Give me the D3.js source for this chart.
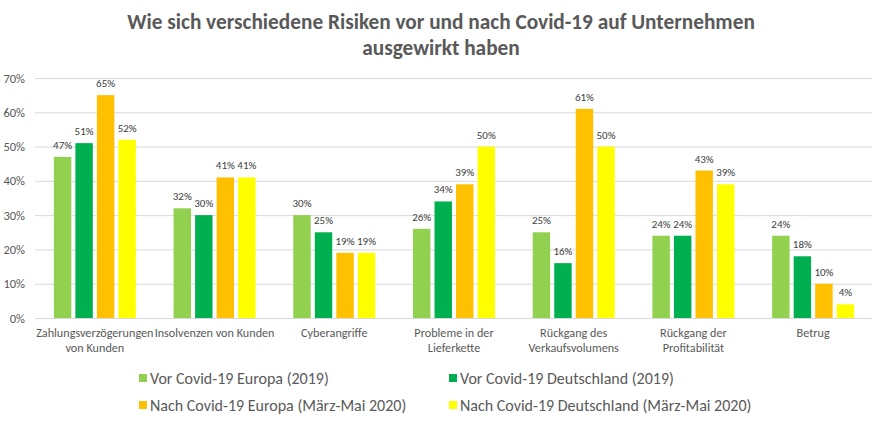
<!DOCTYPE html>
<html><head><meta charset="utf-8">
<script src="https://cdn.jsdelivr.net/npm/d3@7"></script>
<style>body{margin:0;background:#fff;}svg{display:block;font-family:Carlito,Calibri,Lato,sans-serif;}</style>
</head><body><svg id="c" width="872" height="424"></svg>
<script>
const categories = [["Zahlungsverzögerungen","von Kunden"],["Insolvenzen von Kunden"],["Cyberangriffe"],["Probleme in der","Lieferkette"],["Rückgang des","Verkaufsvolumens"],["Rückgang der","Profitabilität"],["Betrug"]];
const seriesNames = ["Vor Covid-19 Europa (2019)","Vor Covid-19 Deutschland (2019)","Nach Covid-19 Europa (März-Mai 2020)","Nach Covid-19 Deutschland (März-Mai 2020)"];
const vorEuropa = [47,32,30,26,25,24,24];
const vorDeutschland = [51,30,25,34,16,24,18];
const nachEuropa = [65,41,19,39,61,43,10];
const nachDeutschland = [52,41,19,50,50,39,4];
const yTicks = [0,10,20,30,40,50,60,70];
const colors = ["#92D050","#00B050","#FFC000","#FFFF00"];
const series = [vorEuropa,vorDeutschland,nachEuropa,nachDeutschland];

const FONT = "Carlito,Calibri,Lato,sans-serif";
const svg = d3.select("#c");
const x0 = d3.scaleBand().domain(d3.range(categories.length)).range([35,873]).padding(0);
const x1 = d3.scaleBand().domain(d3.range(4)).range([-41,41]).paddingInner(0.19);
const y = d3.scaleLinear().domain([0,70]).range([318,78]);

// title
svg.append("text").attr("x",441).attr("y",29).attr("text-anchor","middle").attr("font-size",21.3).attr("font-weight","bold").attr("fill","#595959").text("Wie sich verschiedene Risiken vor und nach Covid-19 auf Unternehmen");
svg.append("text").attr("x",441).attr("y",55).attr("text-anchor","middle").attr("font-size",21.3).attr("font-weight","bold").attr("fill","#595959").text("ausgewirkt haben");

// grid
const yAxis = d3.axisLeft(y).tickValues(yTicks).tickFormat(d=>d+"%").tickSize(-(873-35)).tickPadding(10);
const ga = svg.append("g").attr("transform","translate(35,0)").call(yAxis);
ga.select(".domain").remove();
ga.selectAll(".tick line").attr("stroke","#d9d9d9");
ga.selectAll(".tick text").attr("fill","#595959").attr("font-size",12.5).attr("font-family",FONT);

// bars
const g = svg.append("g");
categories.forEach((c,i)=>{
  const cx = x0(i)+x0.bandwidth()/2;
  series.forEach((s,j)=>{
    const v = s[i];
    g.append("rect").attr("x",cx+x1(j)).attr("y",y(v)).attr("width",x1.bandwidth()).attr("height",y(0)-y(v)).attr("fill",colors[j]);
    g.append("text").attr("x",cx+x1(j)+x1.bandwidth()/2).attr("y",y(v)-8).attr("text-anchor","middle").attr("font-size",11).attr("fill","#404040").text(v+"%");
  });
  c.forEach((line,k)=>{
    svg.append("text").attr("x",cx).attr("y",337+k*15).attr("text-anchor","middle").attr("font-size",12.2).attr("fill","#595959").text(line);
  });
});

// legend
const legPos = [[139,378],[449,378],[139,405],[449,405]];
seriesNames.forEach((n,j)=>{
  const [lx,ly] = legPos[j];
  svg.append("rect").attr("x",lx).attr("y",ly-4).attr("width",8).attr("height",8).attr("fill",colors[j]);
  svg.append("text").attr("x",lx+11).attr("y",ly+5.5).attr("font-size",16).attr("fill","#595959").text(n);
});
</script></body></html>
